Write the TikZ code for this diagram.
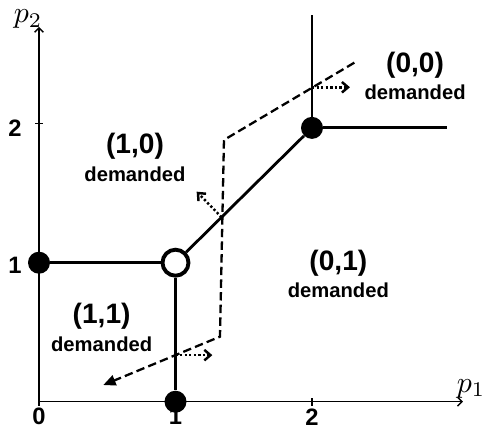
\documentclass[tikz,border=0pt]{standalone}
\usepackage{fontspec}
\setmainfont{Liberation Sans}
\usetikzlibrary{arrows.meta,positioning}

\begin{document}
\begin{tikzpicture}[
        x=2.73cm, y=2.78cm,
        % Achsen, Striche und Beschriftung der Achsen
        axis/.style={line width=0.8pt, -{Straight Barb[length=2.5pt,width=5pt]}},
        tickmark/.style={line width=0.8pt},
        ticklabel/.style={font=\bfseries\fontsize{13.5}{15}\selectfont, inner sep=0pt},
        axislabel/.style={scale=1.7, inner sep=0pt},
        % Grenzen zwischen den Bereichen
        border/.style={line width=1.6pt},
        dot/.style={circle, fill=black, minimum size=0.44cm, inner sep=0pt},
        hole/.style={circle, draw, line width=2.2pt, fill=white, minimum size=0.52cm, inner sep=0pt},
        % Preispfad und Richtungen
        pricepath/.style={line width=1.3pt, dash pattern=on 4.8pt off 2.4pt, -{Triangle[length=7pt,width=6pt]}},
        move/.style={line width=1.4pt, dash pattern=on 1.3pt off 1.3pt, -{Straight Barb[length=3.5pt,width=6pt]}},
        region/.style={font=\bfseries\fontsize{16}{18}\selectfont, inner sep=0pt},
        demand/.style={font=\bfseries\fontsize{11.5}{13}\selectfont, inner sep=0pt}
    ]
    \useasboundingbox (-0.2857,-0.2612) rectangle (3.2527,2.890);

    % Punkte
    \node[dot] (a) at (0,1) {};
    \node[hole] (b) at (1,1) {};
    \node[dot] (c) at (1,0) {};
    \node[dot] (d) at (2,1.97) {};

    % Achsen
    \coordinate (o) at (0,0);
    \coordinate (xend) at (3.106,0);
    \coordinate (yend) at (0,2.696);
    \draw[axis] (o) -- (xend);
    \draw[axis] (o) -- (yend);
    \node[axislabel] (p1) at (3.165,0.095) {$p_1$};
    \node[axislabel] (p2) at (-0.08,2.75) {$p_2$};
    \foreach \i in {0,1,2} {
        \draw[tickmark] (\i,-0.029) -- (\i,0.029);
        \node[ticklabel] (tx\i) at (\i,-0.108) {\i};
    }
    \foreach \i/\y in {1/0.983, 2/1.965} {
        \draw[tickmark] (-0.029,\i) -- (0.029,\i);
        \node[ticklabel] (ty\i) at (-0.176,\y) {\i};
    }

    % Grenzlinien
    \coordinate (dtop) at (2,2.782);
    \coordinate (dright) at (2.987,1.97);
    \draw[border] (a) -- (b);
    \draw[border] (b) -- (c);
    \draw[border] (b) -- (d);
    \draw[border] (d) -- (dtop);
    \draw[border] (d) -- (dright);

    % Preispfad
    \coordinate (q1) at (2.310,2.439);
    \coordinate (q2) at (1.355,1.883);
    \coordinate (q3) at (1.326,0.468);
    \coordinate (q4) at (0.471,0.120);
    \draw[pricepath] (q1) -- (q2) -- (q3) -- (q4);

    % Richtungen an den Kreuzungen
    \coordinate (m1) at (1,0.335);
    \coordinate (m1e) at (1.27,0.335);
    \coordinate (m2) at (2,2.262);
    \coordinate (m2e) at (2.278,2.262);
    \coordinate (m3) at (1.338,1.327);
    \coordinate (m3e) at (1.155,1.511);
    \foreach \s/\e in {m1/m1e, m2/m2e, m3/m3e}
        \draw[move] (\s) -- (\e);

    % Bereiche
    \node[region] (r10) at (0.703,1.835) {(1,0)};
    \node[demand, below=3.5pt of r10] (d10) {demanded};
    \node[region] (r00) at (2.755,2.422) {(0,0)};
    \node[demand, below=3.5pt of r00] (d00) {demanded};
    \node[region] (r01) at (2.193,0.996) {(0,1)};
    \node[demand, below=3.5pt of r01] (d01) {demanded};
    \node[region] (r11) at (0.459,0.612) {(1,1)};
    \node[demand, below=3.5pt of r11] (d11) {demanded};
\end{tikzpicture}
\end{document}
